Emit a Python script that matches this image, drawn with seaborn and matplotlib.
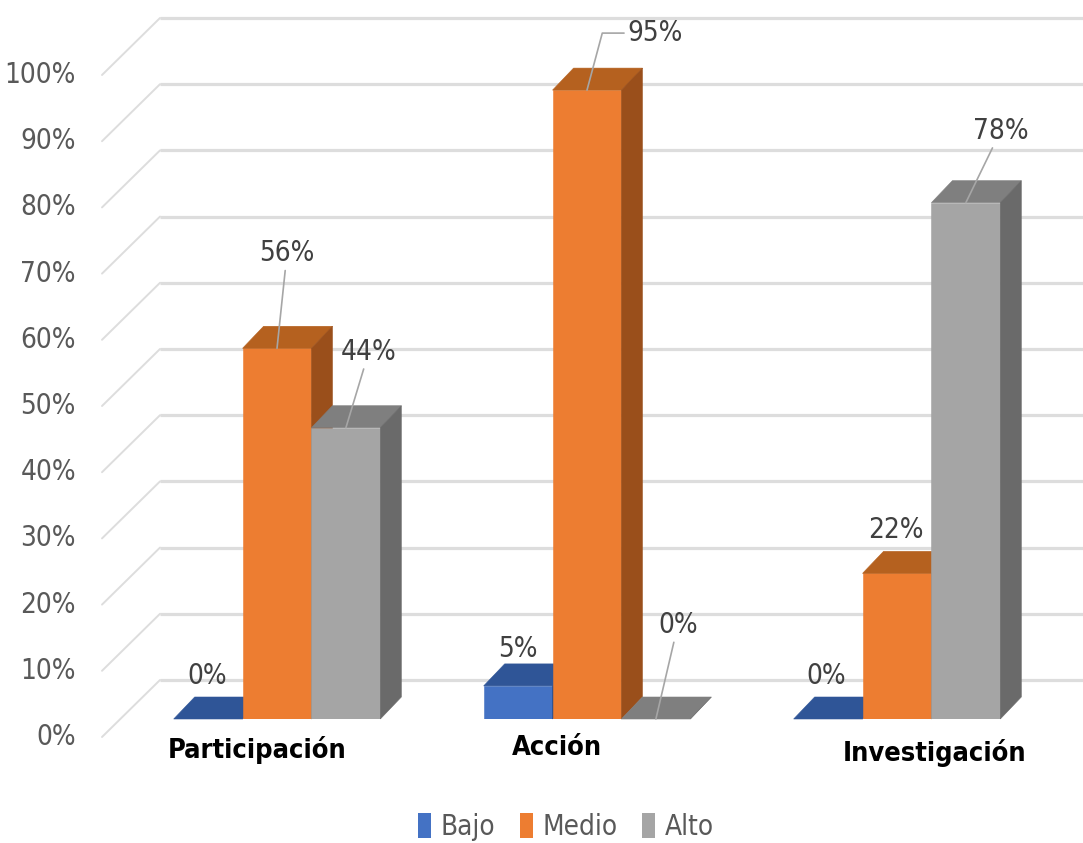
import numpy as np
import pandas as pd
import seaborn as sns
import matplotlib
matplotlib.use("Agg")
import matplotlib.pyplot as plt
from matplotlib import font_manager
from matplotlib.patches import Polygon, Patch
from matplotlib.transforms import ScaledTranslation

# ---- data -------------------------------------------------------------
categories = ["Participación", "Acción", "Investigación"]
levels = ["Bajo", "Medio", "Alto"]
bajo = [0, 5, 0]
medio = [56, 95, 22]
alto = [44, 0, 78]
y_ticks = list(range(0, 101, 10))
y_tick_labels = [f"{t}%" for t in y_ticks]

# ---- styling ----------------------------------------------------------
front_colors = {"Bajo": "#4472C4", "Medio": "#ED7D31", "Alto": "#A5A5A5"}
top_colors = {"Bajo": "#2F5597", "Medio": "#B5611F", "Alto": "#7F7F7F"}
side_colors = {"Bajo": "#2A4B84", "Medio": "#9A4F1B", "Alto": "#6A6A6A"}

sns.set_theme(style="white")
installed = {f.name for f in font_manager.fontManager.ttflist}
narrow = "Liberation Sans Narrow" if "Liberation Sans Narrow" in installed else "DejaVu Sans"
plt.rcParams["font.family"] = [narrow, "DejaVu Sans"]
stretch = "normal" if narrow == "Liberation Sans Narrow" else "condensed"

values = {"Bajo": bajo, "Medio": medio, "Alto": alto}
df = pd.DataFrame(
    [(cat, lvl, values[lvl][i]) for i, cat in enumerate(categories) for lvl in levels],
    columns=["categoria", "nivel", "valor"],
)

DPI = 100
fig = plt.figure(figsize=(10.83, 8.43), dpi=DPI)
W, H = 1083, 843
ax = fig.add_axes([118 / W, 124 / H, 938 / W, 662 / H])

sns.barplot(
    data=df, x="categoria", y="valor", hue="nivel",
    order=categories, hue_order=levels, palette=front_colors,
    width=2 / 3, saturation=1, linewidth=0, errorbar=None,
    legend=False, ax=ax,
)
ax.set_xlim(-0.513, 2.513)
ax.set_ylim(0, 100)
ax.axis("off")


def px_to_data(dx, dy):
    """Convert a pixel displacement into a data displacement."""
    inv = ax.transData.inverted()
    x0, y0 = ax.transData.transform((0, 0))
    xd, yd = inv.transform((x0 + dx, y0 + dy))
    return xd, yd


def shifted(dx, dy):
    return ax.transData + ScaledTranslation(dx / DPI, dy / DPI, fig.dpi_scale_trans)


# depth offsets (pixels): bar depth, floor front edge, back wall
bar_dx, bar_dy = px_to_data(21, 22)
front_px = (-16, -18)
back_px = (42, 39)
grid_c = "#dddddd"
tick_size = 20

xl, xr = ax.get_xlim()
fx, fy = px_to_data(*front_px)
bx, by = px_to_data(*back_px)
for t, lab in zip(y_ticks, y_tick_labels):
    # back wall gridline
    ax.plot([xl, xr], [t, t], color=grid_c, lw=2.3, solid_capstyle="butt",
            transform=shifted(*back_px), clip_on=False, zorder=0.5)
    # side wall gridline running from the front edge to the back wall
    ax.plot([xl + fx, xl + bx], [t + fy, t + by], color=grid_c, lw=1.4,
            clip_on=False, zorder=0.5)
    ax.text(xl, t, lab, ha="right", va="center",
            fontsize=tick_size, color="#595959", fontstretch=stretch,
            transform=shifted(front_px[0] - 26, front_px[1]), clip_on=False)

# 3D faces for every bar, painted left to right
for lvl, cont in zip(levels, ax.containers):
    for bar in cont:
        x, w, h = bar.get_x(), bar.get_width(), bar.get_height()
        z = 2 + x
        bar.set_zorder(z)
        bar.set_edgecolor(front_colors[lvl])
        bar.set_linewidth(0.4)
        top = Polygon([(x, h), (x + w, h), (x + w + bar_dx, h + bar_dy), (x + bar_dx, h + bar_dy)],
                      closed=True, facecolor=top_colors[lvl], edgecolor=top_colors[lvl],
                      lw=0.4, zorder=z, clip_on=False)
        side = Polygon([(x + w, 0), (x + w, h), (x + w + bar_dx, h + bar_dy), (x + w + bar_dx, bar_dy)],
                       closed=True, facecolor=side_colors[lvl], edgecolor=side_colors[lvl],
                       lw=0.4, zorder=z, clip_on=False)
        ax.add_patch(top)
        ax.add_patch(side)

# value labels: pixel offsets from the front-top edge, and leader line style
label_offsets = {
    ("Participación", "Bajo"): (-1, 43, None),
    ("Participación", "Medio"): (10, 95, "arc3"),
    ("Participación", "Alto"): (23, 76, "arc3"),
    ("Acción", "Bajo"): (0, 37, None),
    ("Acción", "Medio"): (68, 57, "angle,angleA=0,angleB=75,rad=0"),
    ("Acción", "Alto"): (22, 94, "arc3"),
    ("Investigación", "Bajo"): (-2, 43, None),
    ("Investigación", "Medio"): (-1, 43, None),
    ("Investigación", "Alto"): (35, 72, "arc3"),
}
for lvl, cont in zip(levels, ax.containers):
    for i, bar in enumerate(cont):
        v = values[lvl][i]
        dx, dy, conn = label_offsets[(categories[i], lvl)]
        cx = bar.get_x() + bar.get_width() / 2
        props = None
        if conn is not None:
            props = dict(arrowstyle="-", color="#a6a6a6", lw=1.2,
                         connectionstyle=conn, shrinkA=0, shrinkB=0)
        ax.annotate(f"{v}%", xy=(cx, v), xytext=(dx, dy), textcoords="offset pixels",
                    ha="center", va="center", fontsize=tick_size, color="#404040",
                    fontstretch=stretch, arrowprops=props, annotation_clip=False,
                    zorder=20)

# category labels under each group
cat_shift = [(-20, -31), (-30, -29), (38, -34)]
for i, cat in enumerate(categories):
    sx, sy = cat_shift[i]
    ax.text(i, 0, cat, ha="center", va="center", fontsize=19.5, fontweight="bold",
            color="#000000", fontstretch=stretch, transform=shifted(sx, sy), clip_on=False)

handles = [Patch(facecolor=front_colors[l], edgecolor="none", label=l) for l in levels]
fig.legend(handles=handles, loc="center", bbox_to_anchor=(566 / W, 16 / H), ncol=3,
           frameon=False, handlelength=0.45, handleheight=1.0,
           handletextpad=0.35, columnspacing=0.9, labelcolor="#595959",
           prop={"family": [narrow, "DejaVu Sans"], "size": 20, "stretch": stretch})

fig.savefig("out.png", dpi=DPI, facecolor="white")
